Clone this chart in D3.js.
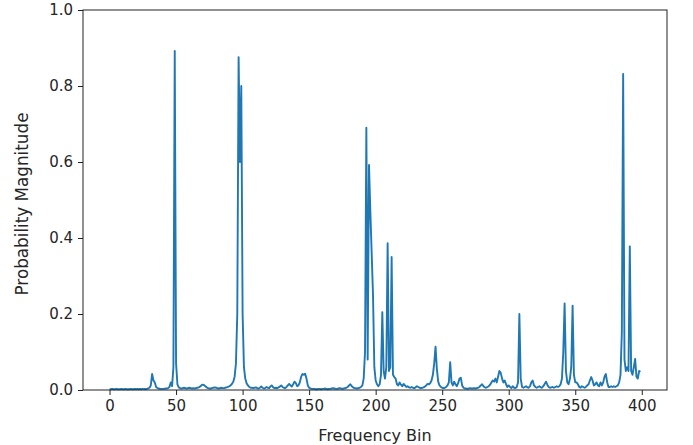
<!DOCTYPE html>
<html>
<head>
<meta charset="utf-8">
<script src="https://cdn.jsdelivr.net/npm/d3@7"></script>
<style>
  html, body { margin: 0; padding: 0; background: #fff; }
  svg { display: block; }
  text { font-family: "DejaVu Sans", sans-serif; fill: #262626; }
</style>
</head>
<body>
<svg id="chart" width="693" height="445"></svg>
<script>
// ---- data ----
const xTicks = [0, 50, 100, 150, 200, 250, 300, 350, 400];
const yTicks = [0.0, 0.2, 0.4, 0.6, 0.8, 1.0];
const xLabel = "Frequency Bin";
const yLabel = "Probability Magnitude";

// magnitude per frequency bin 0..399
const magnitude = [
  // 0-19
  0.002,0.002,0.003,0.002,0.002,0.003,0.002,0.002,0.002,0.003,0.002,0.002,0.003,0.002,0.002,0.002,0.003,0.002,0.002,0.003,
  // 20-39
  0.002,0.003,0.002,0.003,0.002,0.003,0.003,0.002,0.003,0.004,0.006,0.012,0.042,0.025,0.020,0.008,0.005,0.004,0.003,0.003,
  // 40-59
  0.003,0.003,0.004,0.004,0.005,0.008,0.020,0.010,0.060,0.892,0.070,0.015,0.007,0.005,0.004,0.005,0.006,0.005,0.004,0.005,
  // 60-79
  0.006,0.005,0.004,0.005,0.004,0.005,0.006,0.007,0.009,0.012,0.014,0.013,0.010,0.007,0.005,0.004,0.004,0.005,0.006,0.007,
  // 80-99
  0.006,0.005,0.004,0.005,0.006,0.005,0.005,0.006,0.007,0.008,0.010,0.012,0.016,0.022,0.035,0.070,0.200,0.876,0.600,0.800,
  // 100-119
  0.200,0.060,0.030,0.018,0.012,0.008,0.006,0.006,0.005,0.006,0.007,0.005,0.004,0.006,0.009,0.006,0.004,0.005,0.008,0.006,
  // 120-139
  0.005,0.010,0.012,0.007,0.005,0.006,0.005,0.007,0.009,0.012,0.008,0.006,0.005,0.008,0.012,0.016,0.012,0.009,0.015,0.022,
  // 140-159
  0.018,0.010,0.012,0.020,0.035,0.042,0.040,0.043,0.030,0.012,0.006,0.004,0.003,0.003,0.003,0.002,0.002,0.003,0.003,0.002,
  // 160-179
  0.003,0.003,0.004,0.003,0.002,0.003,0.003,0.004,0.005,0.004,0.003,0.003,0.004,0.005,0.004,0.003,0.004,0.005,0.006,0.008,
  // 180-199
  0.012,0.015,0.010,0.007,0.005,0.005,0.004,0.005,0.006,0.008,0.012,0.030,0.100,0.690,0.080,0.592,0.470,0.360,0.250,0.060,
  // 200-219
  0.025,0.015,0.010,0.015,0.040,0.205,0.050,0.030,0.060,0.386,0.050,0.060,0.350,0.040,0.034,0.030,0.015,0.012,0.020,0.014,
  // 220-239
  0.010,0.016,0.012,0.008,0.010,0.007,0.006,0.008,0.006,0.005,0.007,0.010,0.008,0.006,0.005,0.006,0.007,0.009,0.012,0.016,
  // 240-259
  0.015,0.018,0.025,0.040,0.070,0.114,0.055,0.022,0.012,0.008,0.006,0.005,0.006,0.008,0.012,0.020,0.073,0.020,0.012,0.022,
  // 260-279
  0.015,0.010,0.018,0.030,0.032,0.012,0.006,0.004,0.004,0.003,0.004,0.005,0.004,0.004,0.005,0.004,0.005,0.006,0.008,0.012,
  // 280-299
  0.015,0.010,0.007,0.006,0.008,0.010,0.014,0.020,0.025,0.022,0.030,0.020,0.035,0.050,0.045,0.030,0.020,0.025,0.015,0.008,
  // 300-319
  0.012,0.008,0.005,0.010,0.006,0.005,0.008,0.020,0.200,0.030,0.008,0.006,0.008,0.010,0.007,0.006,0.010,0.020,0.025,0.012,
  // 320-339
  0.008,0.006,0.008,0.010,0.007,0.006,0.010,0.016,0.022,0.014,0.008,0.006,0.007,0.008,0.006,0.008,0.010,0.008,0.010,0.015,
  // 340-359
  0.030,0.100,0.228,0.050,0.020,0.015,0.030,0.060,0.222,0.040,0.020,0.020,0.015,0.008,0.006,0.010,0.008,0.006,0.008,0.012,
  // 360-379
  0.015,0.025,0.034,0.025,0.012,0.015,0.020,0.012,0.010,0.020,0.012,0.020,0.035,0.042,0.020,0.008,0.008,0.010,0.008,0.010,
  // 380-399
  0.008,0.010,0.012,0.020,0.040,0.150,0.832,0.080,0.050,0.060,0.050,0.378,0.050,0.040,0.060,0.082,0.035,0.030,0.050,0.048
];

// ---- layout ----
const svg = d3.select("#chart");
const plot = { left: 83, right: 667, top: 10, bottom: 390 };
const n = magnitude.length;
const pad = (n - 1) * 0.05;

const x = d3.scaleLinear().domain([-pad, (n - 1) + pad]).range([plot.left, plot.right]);
const y = d3.scaleLinear().domain([0, 1]).range([plot.bottom, plot.top]);

// line
const line = d3.line()
  .x((d, i) => x(i))
  .y(d => y(d));

svg.append("path")
  .datum(magnitude)
  .attr("fill", "none")
  .attr("stroke", "#1f77b4")
  .attr("stroke-width", 1.9)
  .attr("stroke-linejoin", "round")
  .attr("d", line);

// axes
const xAxis = d3.axisBottom(x).tickValues(xTicks).tickSize(5).tickPadding(5).tickFormat(d3.format("d"));
const yAxis = d3.axisLeft(y).tickValues(yTicks).tickSize(5).tickPadding(5).tickFormat(d3.format(".1f"));

const gx = svg.append("g").attr("transform", `translate(0,${plot.bottom})`).call(xAxis);
const gy = svg.append("g").attr("transform", `translate(${plot.left},0)`).call(yAxis);

[gx, gy].forEach(g => {
  g.select(".domain").remove();
  g.selectAll(".tick line").attr("stroke", "#222").attr("stroke-width", 1);
  g.selectAll(".tick text").attr("font-size", 15).attr("font-family", "DejaVu Sans").attr("fill", "#262626");
});

// spines
svg.append("rect")
  .attr("x", plot.left).attr("y", plot.top)
  .attr("width", plot.right - plot.left).attr("height", plot.bottom - plot.top)
  .attr("fill", "none").attr("stroke", "#222").attr("stroke-width", 1);

// labels
svg.append("text")
  .attr("x", (plot.left + plot.right) / 2).attr("y", 441)
  .attr("text-anchor", "middle").attr("font-size", 16)
  .text(xLabel);

svg.append("text")
  .attr("transform", `translate(28,${(plot.top + plot.bottom) / 2 + 4}) rotate(-90)`)
  .attr("text-anchor", "middle").attr("font-size", 16.8)
  .text(yLabel);
</script>
</body>
</html>
